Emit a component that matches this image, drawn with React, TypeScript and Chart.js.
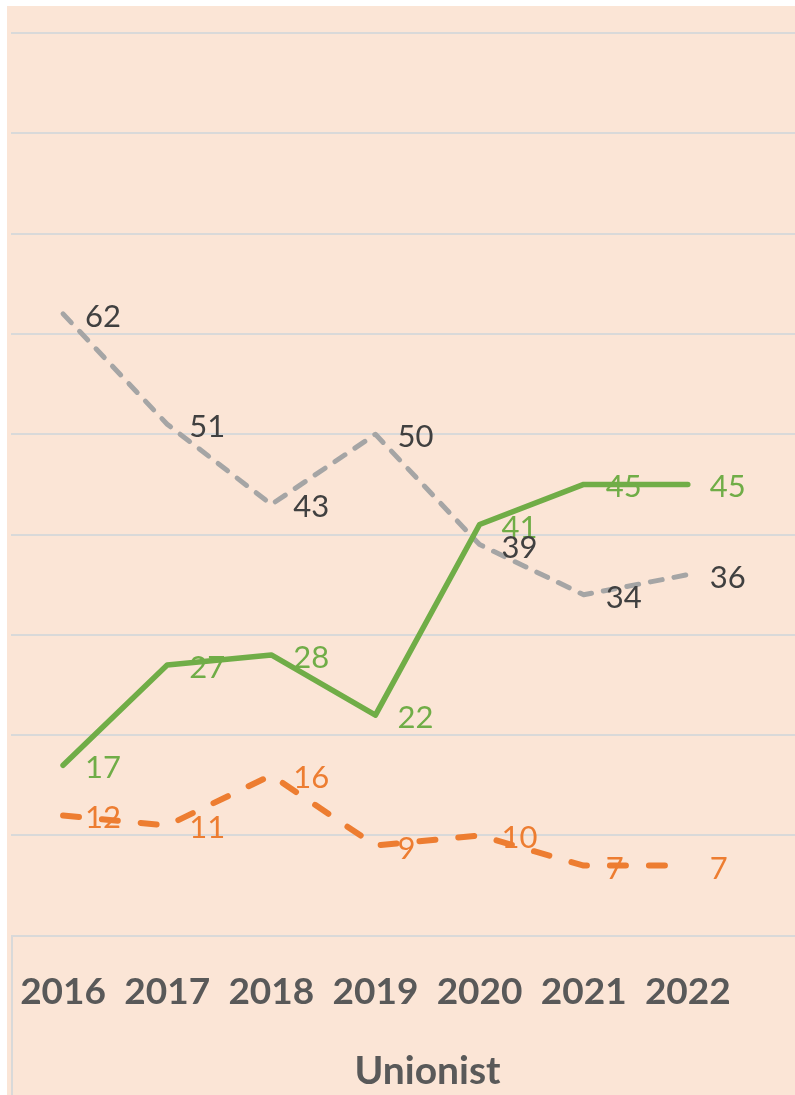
import React, { useEffect, useRef } from "react";
import { Chart, registerables } from "chart.js";

Chart.register(...registerables);

// ---- data ----
const years = ["2016", "2017", "2018", "2019", "2020", "2021", "2022"];
const greenValues = [17, 27, 28, 22, 41, 45, 45];
const greyValues = [62, 51, 43, 50, 39, 34, 36];
const orangeValues = [12, 11, 16, 9, 10, 7, 7];
const yMin = 0;
const yMax = 90;
const yStep = 10;
const axisTitle = "Unionist";

const GREEN = "#70AD47";
const GREY = "#A5A5A5";
const ORANGE = "#ED7D31";
const BG = "#FBE5D6";
const GRID = "#D9D9D9";

const valueLabels = {
  id: "valueLabels",
  afterDatasetsDraw(chart: any) {
    const ctx = chart.ctx;
    chart.data.datasets.forEach((ds: any, i: number) => {
      const meta = chart.getDatasetMeta(i);
      ctx.save();
      ctx.font = "31px Lato";
      ctx.fillStyle = ds.labelColor;
      ctx.textAlign = "left";
      ctx.textBaseline = "middle";
      meta.data.forEach((pt: any, j: number) => {
        const v = ds.data[j];
        if (v == null) return;
        ctx.fillText(String(v), pt.x + 22, pt.y + 3);
      });
      ctx.restore();
    });
  },
};

const groupLine = {
  id: "groupLine",
  afterDraw(chart: any) {
    const { ctx, chartArea, height } = chart;
    ctx.save();
    ctx.strokeStyle = GRID;
    ctx.lineWidth = 2;
    ctx.beginPath();
    ctx.moveTo(chartArea.left + 1, chartArea.bottom);
    ctx.lineTo(chartArea.left + 1, height);
    ctx.stroke();
    ctx.restore();
  },
};

export default function App() {
  const ref = useRef<HTMLCanvasElement | null>(null);

  useEffect(() => {
    if (!ref.current) return;
    const chart = new Chart(ref.current, {
      type: "line",
      data: {
        labels: [...years, ""],
        datasets: [
          {
            label: "green",
            data: greenValues,
            borderColor: GREEN,
            borderWidth: 5.5,
            borderCapStyle: "round",
            borderJoinStyle: "round",
            pointRadius: 0,
            tension: 0,
            fill: false,
            labelColor: GREEN,
          } as any,
          {
            label: "orange",
            data: orangeValues,
            borderColor: ORANGE,
            borderWidth: 6,
            borderDash: [16, 23],
            borderCapStyle: "round",
            borderJoinStyle: "round",
            pointRadius: 0,
            tension: 0,
            fill: false,
            labelColor: ORANGE,
          } as any,
          {
            label: "grey",
            data: greyValues,
            borderColor: GREY,
            borderWidth: 5,
            borderDash: [12, 12],
            borderCapStyle: "round",
            borderJoinStyle: "round",
            pointRadius: 0,
            tension: 0,
            fill: false,
            labelColor: "#404040",
          } as any,
        ],
      },
      options: {
        responsive: false,
        animation: false,
        layout: { padding: { left: 4, right: 3, top: 27, bottom: 0 } },
        plugins: {
          legend: { display: false },
          tooltip: { enabled: false },
        },
        scales: {
          x: {
            offset: true,
            grid: { display: false, drawTicks: false },
            border: { display: false },
            ticks: {
              color: "#595959",
              font: { family: "Lato", size: 37, weight: "bold" },
              padding: 34,
              maxRotation: 0,
              autoSkip: false,
            },
            title: {
              display: true,
              text: axisTitle,
              color: "#595959",
              font: { family: "Lato", size: 39, weight: "bold" },
              padding: { top: 0, bottom: 0 },
            },
            afterFit: (scale: any) => {
              scale.paddingLeft = 0;
              scale.paddingRight = 0;
            },
          },
          y: {
            min: yMin,
            max: yMax,
            ticks: { display: false, stepSize: yStep },
            border: { display: false },
            grid: { color: GRID, lineWidth: 2, drawTicks: false },
            afterFit: (scale: any) => {
              scale.width = 0;
            },
          },
        },
      },
      plugins: [valueLabels, groupLine],
    });
    return () => chart.destroy();
  }, []);

  return (
    <div
      style={{
        position: "fixed",
        left: 7,
        top: 6,
        width: 788,
        height: 1089,
        overflow: "hidden",
        background: BG,
      }}
    >
      <canvas
        ref={ref}
        width={840}
        height={1089}
        style={{ display: "block", width: 840, height: 1089 }}
      />
    </div>
  );
}
